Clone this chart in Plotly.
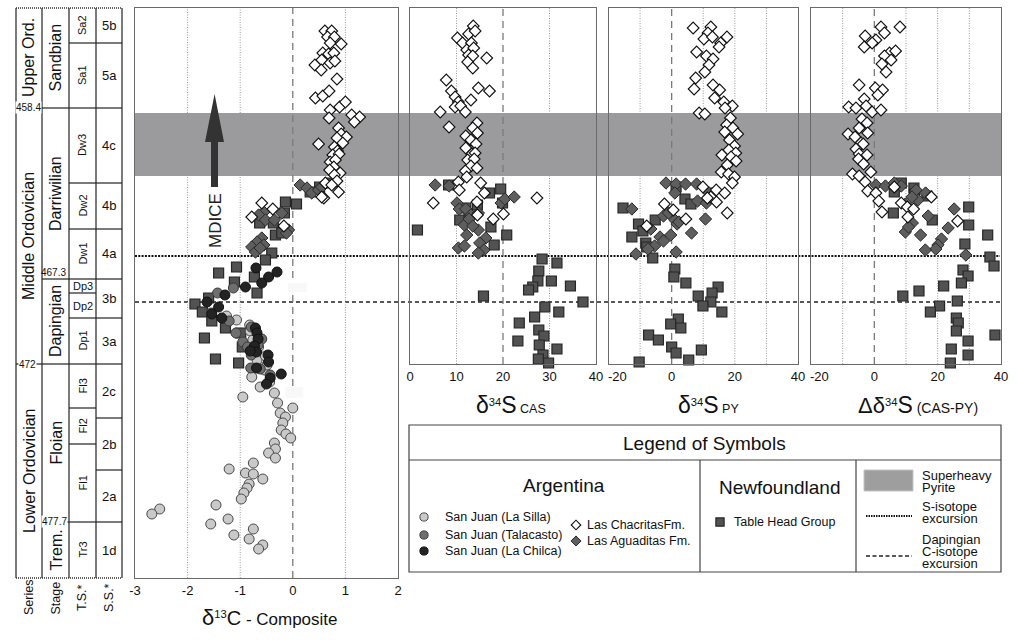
import plotly.graph_objects as go

# ---------------- DATA ----------------
# Stratigraphic height in arbitrary section units (0 = base, 570 = top of column)
H_TOP = 570
H_SULFUR_BASE = 214            # base of the sulfur-isotope panels
SUPERHEAVY_BAND = (402, 465)   # superheavy pyrite interval
S_EXCURSION_H = 322            # S-isotope excursion level
DAP_EXCURSION_H = 276          # Dapingian C-isotope excursion level

# delta13C composite panel  (value, height)
silla_c13 = [(-1.26, 262), (-1.07, 258), (-0.82, 253), (-0.81, 247), (-0.76, 238), (-0.65, 231),
             (-0.68, 218), (-0.52, 222), (-0.54, 208), (-0.49, 213), (-0.78, 201), (-0.44, 196),
             (-0.62, 191), (-0.35, 185), (-0.95, 181), (-0.29, 175), (0.00, 170), (-0.24, 165),
             (-0.14, 161), (-0.19, 155), (-0.22, 148), (-0.13, 144), (-0.04, 140), (-0.35, 135),
             (-0.33, 129), (-0.46, 125), (-0.33, 120), (-0.75, 115), (-1.21, 109), (-0.90, 105),
             (-0.75, 104), (-0.57, 99), (-0.83, 94), (-0.87, 90), (-0.93, 85), (-0.98, 79),
             (-1.46, 73), (-2.53, 69), (-2.68, 64), (-1.23, 59), (-1.56, 54), (-0.75, 49),
             (-1.12, 43), (-0.83, 39), (-0.57, 33), (-0.65, 29)]
talacasto_c13 = [(-1.43, 285), (-1.13, 290), (-1.55, 265), (-1.21, 257), (-1.08, 245), (-0.95, 236),
                 (-0.86, 231), (-0.79, 223), (-0.80, 210), (-0.62, 209), (-0.43, 203), (-0.59, 239),
                 (-0.66, 233), (-0.79, 251)]
chilca_c13 = [(-0.70, 310), (-0.46, 301), (-0.30, 306), (-0.59, 295), (-0.90, 291), (-1.29, 283),
              (-1.63, 276), (-1.41, 271), (-1.54, 264), (-1.35, 260), (-0.71, 250), (-0.68, 245),
              (-0.66, 239), (-0.73, 232), (-0.69, 226), (-0.47, 223), (-0.46, 216), (-0.69, 210),
              (-0.22, 204), (-0.43, 200), (-0.50, 194), (-0.81, 227)]
chacritas_c13 = [(0.61, 547), (0.74, 547), (0.66, 541), (0.79, 541), (0.71, 535), (0.92, 534),
                 (0.57, 525), (0.68, 524), (0.78, 525), (0.55, 518), (0.71, 515), (0.80, 517),
                 (0.42, 513), (0.54, 508), (0.84, 499), (0.43, 480), (0.57, 482), (0.69, 487),
                 (0.71, 468), (0.89, 471), (1.00, 476), (0.69, 460), (1.12, 463), (1.27, 461),
                 (1.17, 456), (0.87, 450), (0.92, 444), (1.02, 441), (0.84, 440), (0.49, 434),
                 (0.95, 435), (0.79, 431), (0.85, 427), (0.76, 423), (0.88, 424), (0.71, 416),
                 (0.81, 418), (0.78, 411), (0.70, 408), (0.90, 405), (0.79, 403), (0.84, 397),
                 (0.62, 395), (0.74, 393), (0.87, 386), (0.59, 380), (0.55, 381), (-0.78, 361),
                 (-0.59, 375), (-0.38, 369), (-0.17, 352)]
aguaditas_c13 = [(0.14, 393), (0.27, 390), (0.36, 385), (0.49, 388), (0.55, 391), (-0.55, 366),
                 (-0.65, 363), (-0.52, 358), (-0.35, 358), (-0.21, 365), (-0.08, 348), (-0.12, 345),
                 (-0.59, 340), (-0.68, 336), (-0.55, 333), (-0.78, 331), (-0.71, 326), (-0.62, 330)]
tablehead_c13 = [(0.33, 386), (0.51, 391), (0.70, 395), (-0.14, 376), (0.07, 374), (-0.16, 365),
                 (-0.37, 355), (-0.63, 355), (-0.33, 343), (-0.21, 345), (-0.40, 325), (-0.52, 318),
                 (-1.07, 311), (-1.41, 305), (-1.11, 296), (-0.73, 301), (-0.68, 285), (-1.60, 280),
                 (-1.86, 274), (-1.72, 266), (-1.54, 257), (-1.28, 250), (-0.99, 245), (-0.96, 231),
                 (-1.68, 240), (-1.47, 219), (-1.03, 215)]

# delta34S CAS panel
chacritas_cas = [(13.6, 552), (12.6, 544), (14.0, 547), (10.2, 540), (11.3, 535), (13.2, 535),
                 (12.2, 528), (13.7, 530), (12.6, 523), (13.5, 522), (16.5, 520), (12.4, 516),
                 (13.5, 510), (7.8, 498), (8.9, 487), (9.7, 481), (10.4, 476), (13.1, 478),
                 (14.7, 490), (17.1, 487), (9.7, 471), (10.9, 472), (11.9, 466), (6.5, 466),
                 (8.4, 451), (14.4, 455), (13.5, 450), (14.5, 445), (12.0, 442), (13.1, 438),
                 (14.2, 434), (12.0, 430), (13.3, 424), (14.0, 425), (12.4, 418), (13.8, 419),
                 (13.1, 412), (14.4, 410), (11.9, 407), (12.2, 401), (10.4, 396), (15.2, 395),
                 (10.6, 388), (16.0, 385), (14.4, 376), (5.0, 375), (27.3, 380), (17.9, 359),
                 (14.5, 363), (20.1, 364)]
aguaditas_cas = [(5.4, 393), (8.4, 392), (10.1, 375), (10.6, 369), (12.0, 369), (13.1, 363),
                 (14.7, 365), (19.6, 375), (20.4, 379), (22.4, 381), (11.7, 353), (12.7, 359),
                 (14.7, 348), (12.2, 343), (16.3, 340), (15.0, 335), (15.9, 328), (14.7, 325),
                 (10.4, 330), (11.7, 332), (13.5, 352)]
tablehead_cas = [(8.3, 393), (17.1, 385), (19.5, 389), (19.9, 375), (12.0, 370), (10.7, 358),
                 (12.7, 362), (14.5, 373), (17.4, 351), (1.6, 348), (20.8, 343), (18.1, 333),
                 (28.4, 319), (31.6, 315), (27.7, 307), (30.4, 297), (27.5, 297), (26.4, 291),
                 (25.5, 288), (34.5, 292), (15.8, 282), (37.2, 276), (29.0, 271), (32.0, 266),
                 (26.8, 261), (23.5, 255), (27.7, 248), (28.8, 242), (23.2, 237), (27.8, 233),
                 (31.6, 229), (28.6, 223), (27.6, 219), (29.8, 215)]

# delta34S pyrite panel
chacritas_py = [(6.8, 550), (12.4, 551), (11.5, 545), (10.2, 539), (12.9, 541), (17.5, 541),
                (15.5, 535), (15.0, 531), (7.9, 526), (11.0, 522), (13.1, 519), (11.8, 513),
                (10.5, 506), (7.6, 500), (13.1, 493), (7.1, 489), (15.2, 488), (13.6, 480),
                (16.5, 476), (19.2, 472), (16.9, 470), (8.7, 465), (10.5, 464), (18.6, 460),
                (17.4, 453), (19.4, 450), (16.8, 446), (20.9, 444), (18.3, 438), (19.9, 432),
                (18.1, 428), (20.3, 425), (15.9, 423), (18.8, 421), (20.4, 417), (17.6, 413),
                (15.7, 406), (18.0, 404), (19.9, 401), (19.2, 395), (9.9, 391), (14.1, 388),
                (12.4, 381), (11.3, 380), (16.8, 385), (14.2, 376), (-2.3, 374), (0.5, 368),
                (4.5, 359), (-7.9, 352), (17.6, 365)]
aguaditas_py = [(-1.8, 395), (1.4, 394), (4.4, 394), (7.9, 394), (1.0, 385), (8.2, 377),
                (11.0, 375), (11.8, 385), (-12.6, 369), (-2.6, 362), (-1.0, 365), (1.0, 358),
                (10.7, 359), (-6.6, 349), (1.7, 354), (2.3, 356), (-3.7, 341), (-2.6, 337),
                (-0.3, 343), (6.3, 345), (-5.4, 332), (-7.5, 329), (-11.3, 324), (1.4, 326)]
tablehead_py = [(1.4, 391), (4.2, 379), (6.1, 374), (12.0, 385), (-15.4, 370), (-5.2, 358),
                (-10.5, 354), (-9.1, 347), (-12.6, 341), (-8.2, 335), (-7.9, 331), (-6.0, 320),
                (1.0, 309), (0.7, 301), (4.5, 295), (14.7, 291), (12.8, 285), (8.4, 282),
                (12.4, 276), (9.9, 272), (15.9, 266), (2.1, 259), (-0.3, 254), (2.9, 250),
                (-7.3, 243), (-4.2, 238), (0.0, 231), (1.4, 225), (9.4, 228), (5.4, 218),
                (-10.3, 216)]

# Delta delta34S (CAS-PY) panel
chacritas_d = [(2.1, 551), (8.1, 551), (3.2, 545), (-2.9, 542), (0.5, 538), (-0.7, 535),
               (-3.2, 531), (4.8, 525), (6.7, 527), (3.2, 522), (5.3, 518), (2.4, 514),
               (3.7, 506), (-4.8, 493), (0.3, 490), (2.6, 488), (1.1, 483), (-3.2, 479),
               (-8.1, 471), (-5.8, 470), (-2.6, 472), (-0.7, 466), (2.1, 468), (-3.9, 459),
               (-2.3, 455), (-4.8, 450), (-2.1, 445), (-8.3, 444), (-6.1, 441), (-4.2, 435),
               (-3.5, 434), (-5.8, 429), (-4.8, 424), (-2.3, 423), (-5.0, 419), (-3.4, 414),
               (-1.1, 406), (-6.9, 404), (-4.8, 402), (-2.9, 396), (-2.1, 387), (0.5, 385),
               (1.4, 377), (2.4, 366), (6.3, 391), (8.5, 375), (10.4, 371), (12.4, 369),
               (18.0, 381), (10.6, 361), (26.3, 357)]
aguaditas_d = [(0.5, 393), (3.5, 392), (6.3, 395), (8.5, 392), (13.2, 388), (13.8, 378),
               (16.2, 385), (11.9, 381), (9.8, 374), (17.0, 362), (12.0, 355), (9.8, 346),
               (14.6, 343), (10.8, 351), (23.3, 350), (21.2, 339), (20.1, 333), (19.4, 329),
               (16.1, 328), (25.2, 369), (28.9, 323)]
tablehead_d = [(8.5, 395), (6.3, 386), (12.5, 390), (12.7, 384), (16.6, 382), (6.0, 365),
               (18.3, 358), (29.8, 371), (29.8, 353), (35.8, 343), (28.6, 334), (36.5, 321),
               (37.8, 312), (28.0, 308), (29.6, 302), (27.5, 295), (21.9, 292), (14.1, 287),
               (9.0, 282), (26.2, 277), (20.6, 272), (17.7, 266), (25.9, 260), (26.5, 255),
               (25.9, 247), (38.1, 243), (29.6, 237), (24.3, 229), (29.6, 223), (24.0, 215)]

# Stratigraphic column
series_names = ["Upper Ord.", "Middle Ordovician", "Lower Ordovician"]
series_bounds = [570, 470, 214, 0]
stage_names = ["Sandbian", "Darriwilian", "Dapingian", "Floian", "Trem."]
stage_bounds = [570, 470, 299, 214, 56, 0]
ts_names = ["Sa2", "Sa1", "Dw3", "Dw2", "Dw1", "Dp3", "Dp2", "Dp1", "Fl3", "Fl2", "Fl1", "Tr3"]
ts_bounds = [570, 535, 470, 395, 349, 299, 285, 260, 214, 170, 134, 56, 0]
ss_names = ["5b", "5a", "4c", "4b", "4a", "3b", "3a", "2c", "2b", "2a", "1d"]
ss_bounds = [570, 535, 470, 395, 349, 299, 260, 214, 160, 108, 56, 0]
age_labels = ["458.4", "467.3", "472", "477.7"]
age_heights = [470, 299, 214, 56]

c13_ticks = [-3, -2, -1, 0, 1, 2]
cas_ticks = [0, 10, 20, 30, 40]
py_ticks = [-20, 0, 20, 40]
d_ticks = [-20, 0, 20, 40]

# ---------------- FIGURE ----------------
W, H = 1018, 640
FONT = "Liberation Sans, Arial, sans-serif"
INK = "#111111"


def PX(x):
    return x / W


def PY(y):
    return 1 - y / H


fig = go.Figure()

SQ = dict(symbol="square", size=10, color="#525252", line=dict(color="#262626", width=1.2))
DIA_OPEN = dict(symbol="diamond", size=9, color="white", line=dict(color="#111111", width=1.1))
DIA_FILL = dict(symbol="diamond", size=9.5, color="#5e5e5e", line=dict(color="#2a2a2a", width=1))
C_LIGHT = dict(symbol="circle", size=10, color="#c9c9c9", line=dict(color="#4a4a4a", width=1))
C_MID = dict(symbol="circle", size=10, color="#6f6f6f", line=dict(color="#3a3a3a", width=1))
C_DARK = dict(symbol="circle", size=10, color="#232323", line=dict(color="#111111", width=1))


def add(pairs, xa, ya, marker):
    fig.add_trace(go.Scatter(x=[p[0] for p in pairs], y=[p[1] for p in pairs], mode="markers",
                             xaxis=xa, yaxis=ya, marker=marker, hoverinfo="skip",
                             cliponaxis=False, showlegend=False))


add(tablehead_c13, "x", "y", SQ)
add(silla_c13, "x", "y", C_LIGHT)
add(talacasto_c13, "x", "y", C_MID)
add(chilca_c13, "x", "y", C_DARK)
add(aguaditas_c13, "x", "y", DIA_FILL)
add(chacritas_c13, "x", "y", DIA_OPEN)

add(tablehead_cas, "x2", "y2", SQ)
add(aguaditas_cas, "x2", "y2", DIA_FILL)
add(chacritas_cas, "x2", "y2", DIA_OPEN)

add(tablehead_py, "x3", "y3", SQ)
add(aguaditas_py, "x3", "y3", DIA_FILL)
add(chacritas_py, "x3", "y3", DIA_OPEN)

add(tablehead_d, "x4", "y4", SQ)
add(aguaditas_d, "x4", "y4", DIA_FILL)
add(chacritas_d, "x4", "y4", DIA_OPEN)


# legend swatches on a pixel overlay axis
def swatch(x, y, marker):
    m = dict(marker)
    m["size"] = marker["size"] * 0.82
    fig.add_trace(go.Scatter(x=[x], y=[y], mode="markers", xaxis="x5", yaxis="y5",
                             marker=m, hoverinfo="skip", showlegend=False, cliponaxis=False))


swatch(424, 517, C_LIGHT)
swatch(424, 535, C_MID)
swatch(424, 551, C_DARK)
swatch(576, 525, DIA_OPEN)
swatch(576, 541, DIA_FILL)
swatch(720, 522, SQ)


def xax(dom, rng, anchor, tv, tt):
    return dict(domain=dom, range=rng, anchor=anchor, showgrid=False, zeroline=False,
                showline=True, mirror=True, linecolor="#6a6a6a", linewidth=1.2, ticks="",
                tickmode="array", tickvals=tv, ticktext=tt, automargin=False,
                tickfont=dict(family=FONT, size=13, color=INK), fixedrange=True)


def yax(dom, rng, anchor):
    return dict(domain=dom, range=rng, anchor=anchor, showgrid=False, zeroline=False,
                showline=True, mirror=True, linecolor="#6a6a6a", linewidth=1.2, ticks="",
                showticklabels=False, fixedrange=True, automargin=False)


def lab(v):
    return str(v)


main_y = [PY(578), PY(8)]
s_y = [PY(364), PY(8)]
fig.update_layout(
    xaxis=xax([PX(135), PX(398)], [-3, 2], "y", c13_ticks, [lab(v) for v in c13_ticks]),
    yaxis=yax(main_y, [0, H_TOP], "x"),
    xaxis2=xax([PX(410), PX(596)], [0, 40], "y2", cas_ticks, [lab(v) for v in cas_ticks]),
    yaxis2=yax(s_y, [H_SULFUR_BASE, H_TOP], "x2"),
    # the "-20" labels of the PY and Delta axes are drawn as annotations (shifted right)
    xaxis3=xax([PX(608.5), PX(798)], [-20, 40], "y3", py_ticks,
               ["" if v == -20 else lab(v) for v in py_ticks]),
    yaxis3=yax(s_y, [H_SULFUR_BASE, H_TOP], "x3"),
    xaxis4=xax([PX(811), PX(1001)], [-20, 40], "y4", d_ticks,
               ["" if v == -20 else lab(v) for v in d_ticks]),
    yaxis4=yax(s_y, [H_SULFUR_BASE, H_TOP], "x4"),
    xaxis5=dict(domain=[0, 1], range=[0, W], anchor="y5", visible=False, fixedrange=True,
                automargin=False),
    yaxis5=dict(domain=[0, 1], range=[H, 0], anchor="x5", visible=False, fixedrange=True,
                automargin=False),
)

shapes = []
# superheavy pyrite band across all panels
shapes.append(dict(type="rect", xref="paper", yref="y", x0=PX(135), x1=PX(1001),
                   y0=SUPERHEAVY_BAND[0], y1=SUPERHEAVY_BAND[1], fillcolor="#9b9b9d",
                   line=dict(width=0), layer="below"))
# excursion lines
shapes.append(dict(type="line", xref="paper", yref="y", x0=PX(135), x1=PX(1000),
                   y0=S_EXCURSION_H, y1=S_EXCURSION_H, layer="below",
                   line=dict(color="#111111", width=2.2, dash="2px,1.3px")))
shapes.append(dict(type="line", xref="paper", yref="y", x0=PX(135), x1=PX(1000),
                   y0=DAP_EXCURSION_H, y1=DAP_EXCURSION_H, layer="below",
                   line=dict(color="#222222", width=1.4, dash="4px,3px")))

# grid lines
grids = [("x", "y domain", [-2, -1, 1], [0]),
         ("x2", "y2 domain", [10, 30], [20]),
         ("x3", "y3 domain", [-10, 10, 20, 30], [0]),
         ("x4", "y4 domain", [-10, 10, 20, 30], [0])]
for xr, yr, dots, dashes in grids:
    for v in dots:
        shapes.append(dict(type="line", xref=xr, yref=yr, x0=v, x1=v, y0=0, y1=1, layer="below",
                           line=dict(color="#9a9a9a", width=1, dash="1px,1.5px")))
    for v in dashes:
        shapes.append(dict(type="line", xref=xr, yref=yr, x0=v, x1=v, y0=0, y1=1, layer="below",
                           line=dict(color="#7a7a7a", width=1.3, dash="7px,5px")))
# faint scanning patches over the zero line
shapes.append(dict(type="rect", xref="x", yref="y", x0=-0.09, x1=0.27, y0=286, y1=295,
                   fillcolor="#f8f8f8", line=dict(width=0), layer="below"))
shapes.append(dict(type="rect", xref="x", yref="y", x0=-0.14, x1=0.20, y0=180, y1=191,
                   fillcolor="#f8f8f8", line=dict(width=0), layer="below"))

# MDICE arrow (pixel geometry)
arrow_pts = [(211, 187), (211, 142), (205, 142), (214.6, 94), (224, 142), (218, 142), (218, 187)]
path = "M " + " L ".join(f"{PX(x):.5f},{PY(y):.5f}" for x, y in arrow_pts) + " Z"
shapes.append(dict(type="path", xref="paper", yref="paper", path=path, fillcolor="#333333",
                   line=dict(width=0)))

# stratigraphic column
COLS = {"series": (16, 42), "stage": (42, 69), "ts": (69, 96), "ss": (96, 122)}
LINE = dict(color="#222222", width=1.2)
for xv in [16, 42, 69, 96, 122]:
    shapes.append(dict(type="line", xref="paper", yref="y domain", x0=PX(xv), x1=PX(xv),
                       y0=0, y1=1, line=LINE))
for yv in [0, 1]:
    shapes.append(dict(type="line", xref="paper", yref="y domain", x0=PX(16), x1=PX(122),
                       y0=yv, y1=yv, line=dict(color="#333333", width=1.3, dash="1px,1px")))
for key, bounds in [("series", series_bounds), ("stage", stage_bounds),
                    ("ts", ts_bounds), ("ss", ss_bounds)]:
    a, b = COLS[key]
    for h in bounds[1:-1]:
        shapes.append(dict(type="line", xref="paper", yref="y", x0=PX(a), x1=PX(b),
                           y0=h, y1=h, line=LINE))

# legend box
LB = dict(color="#444444", width=1.2)
shapes.append(dict(type="rect", xref="paper", yref="paper", x0=PX(409), x1=PX(1001),
                   y0=PY(572), y1=PY(425), line=LB))
shapes.append(dict(type="line", xref="paper", yref="paper", x0=PX(409), x1=PX(1001),
                   y0=PY(460), y1=PY(460), line=LB))
for xv in [700, 856]:
    shapes.append(dict(type="line", xref="paper", yref="paper", x0=PX(xv), x1=PX(xv),
                       y0=PY(460), y1=PY(572), line=LB))
shapes.append(dict(type="rect", xref="paper", yref="paper", x0=PX(864), x1=PX(913),
                   y0=PY(491), y1=PY(470), fillcolor="#9e9e9e", line=dict(color="#c4c4c4", width=1)))
shapes.append(dict(type="line", xref="paper", yref="paper", x0=PX(866), x1=PX(912),
                   y0=PY(516), y1=PY(516), line=dict(color="#111111", width=2, dash="1.5px,1px")))
shapes.append(dict(type="line", xref="paper", yref="paper", x0=PX(866), x1=PX(912),
                   y0=PY(556), y1=PY(556), line=dict(color="#222222", width=1.4, dash="4px,2.5px")))

fig.update_layout(shapes=shapes)

ann = []


def T(x, y, s, size, yref="paper", xanchor="center", angle=0, bg=None, color=INK):
    d = dict(x=PX(x), xref="paper", y=(PY(y) if yref == "paper" else y), yref=yref, text=s,
             showarrow=False, xanchor=xanchor, yanchor="middle", textangle=angle,
             font=dict(family=FONT, size=size, color=color), borderpad=0)
    if bg:
        d["bgcolor"] = bg
    ann.append(d)


def centers(b):
    return [(b[i] + b[i + 1]) / 2 for i in range(len(b) - 1)]


for name, c in zip(series_names, centers(series_bounds)):
    T(29, c, name, 16, yref="y", angle=-90)
for name, c in zip(stage_names, centers(stage_bounds)):
    T(55.5, c, name, 16, yref="y", angle=-90)
for name, c in zip(ts_names, centers(ts_bounds)):
    T(82.5, c, name, 11, yref="y", angle=(0 if name in ("Dp3", "Dp2") else -90))
for name, c in zip(ss_names, centers(ss_bounds)):
    T(109, c, name, 13, yref="y")
age_x = [28, 53, 27, 54]
age_dy = [0, 6.5, 0, 1]
for s, h, ax_, dy in zip(age_labels, age_heights, age_x, age_dy):
    T(ax_, h + dy, s, 10, yref="y", bg=(None if dy > 3 else "white"))

for s, x in zip(["Series", "Stage", "T.S.*", "S.S.*"], [29, 55.5, 82, 109]):
    T(x, 598, s, 12.5, angle=-90)

T(215, 221, "MDICE", 17, angle=-90, color="#222222")

# shifted "-20" tick labels
T(617, 376, "-20", 13)
T(819, 376, "-20", 13)

# axis titles (base size 16 so that the superscripts come out ~11px)
T(270, 617, "<span style='font-size:22px'>δ</span><sup>13</sup>"
  "<span style='font-size:20px'>C</span><span style='font-size:17px'> - Composite</span>", 16)
T(511, 405, "<span style='font-size:23px'>δ</span><sup>34</sup>"
  "<span style='font-size:23px'>S</span><span style='font-size:12.5px'> CAS</span>", 16)
T(708, 405, "<span style='font-size:23px'>δ</span><sup>34</sup>"
  "<span style='font-size:23px'>S</span><span style='font-size:12.5px'> PY</span>", 16)
T(918, 405, "<span style='font-size:22px'>Δδ</span><sup>34</sup>"
  "<span style='font-size:23px'>S</span><span style='font-size:14px'> (CAS-PY)</span>", 16)

# legend texts
T(704, 443, "Legend of Symbols", 19)
T(564, 485, "Argentina", 19)
T(779, 487, "Newfoundland", 19)
for s, y in zip(["San Juan (La Silla)", "San Juan (Talacasto)", "San Juan (La Chilca)"], [517, 535, 551]):
    T(444, y, s, 12.5, xanchor="left")
for s, y in zip(["Las ChacritasFm.", "Las Aguaditas Fm."], [525, 541]):
    T(586, y, s, 12.5, xanchor="left")
T(733, 522, "Table Head Group", 12.5, xanchor="left")
for s, y in zip(["Superheavy", "Pyrite", "S-isotope", "excursion", "Dapingian", "C-isotope", "excursion"],
                [475, 487, 506, 518, 539, 551, 563]):
    T(921, y, s, 13, xanchor="left")

fig.update_layout(annotations=ann, width=W, height=H, autosize=False,
                  margin=dict(l=0, r=0, t=0, b=0, pad=0, autoexpand=False),
                  paper_bgcolor="white",
                  plot_bgcolor="rgba(0,0,0,0)", showlegend=False,
                  font=dict(family=FONT, color=INK))

fig.write_html("out.html", config={"displayModeBar": False},
               post_script="document.body.style.margin='0';document.body.style.padding='0';")
